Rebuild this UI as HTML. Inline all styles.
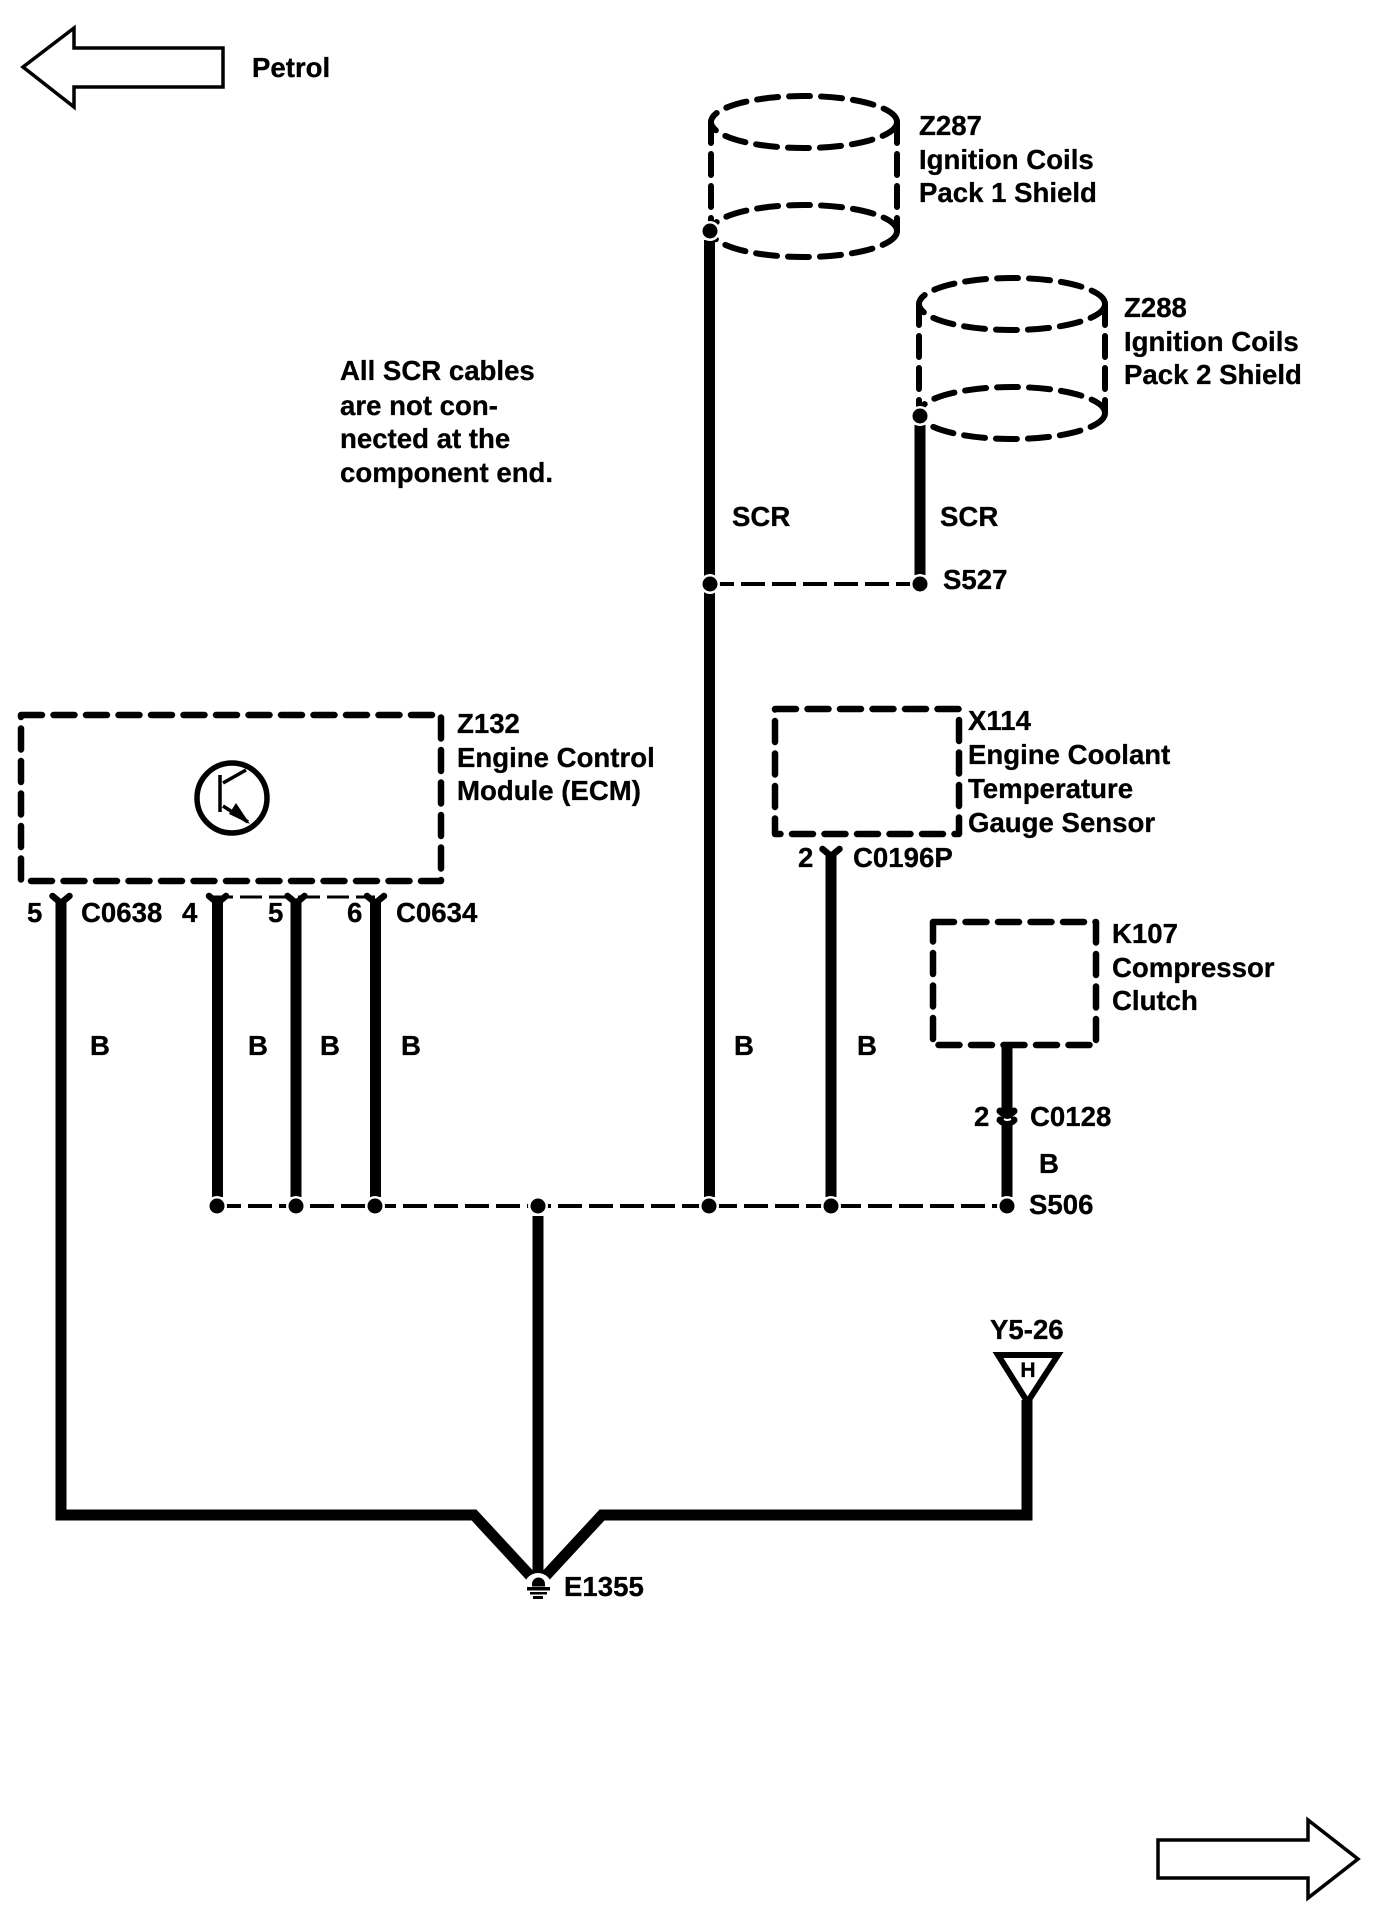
<!DOCTYPE html>
<html lang="en">
<head>
<meta charset="utf-8">
<title>Wiring diagram</title>
<style>
html,body{margin:0;padding:0;background:#fff;}
svg{display:block;}
text{font-family:"Liberation Sans",sans-serif;font-weight:bold;font-size:27.6px;fill:#000;stroke:#000;stroke-width:.3px;}
.w{fill:none;stroke:#000;stroke-width:11;}
.d{fill:none;stroke:#000;stroke-width:6.5;stroke-dasharray:21 11.5;stroke-linecap:round;stroke-linejoin:round;}
.c{fill:none;stroke:#000;stroke-width:6;stroke-dasharray:21 11;stroke-linecap:round;}
.h{fill:none;stroke:#000;stroke-width:4;stroke-dasharray:24 7;}
.y{fill:none;stroke:#000;stroke-width:6.5;stroke-linecap:round;}
.a{fill:#fff;stroke:#000;stroke-width:3.5;stroke-linejoin:miter;}
</style>
</head>
<body>
<svg xmlns="http://www.w3.org/2000/svg" width="1392" height="1914" viewBox="0 0 1392 1914">
<rect width="1392" height="1914" fill="#fff"/>

<!-- direction arrows -->
<polygon class="a" points="23,67 74,28 74,48 223,48 223,87 74,87 74,107"/>
<polygon class="a" points="1358,1859 1308,1820 1308,1840 1158,1840 1158,1878 1308,1878 1308,1898"/>
<text x="252" y="77">Petrol</text>

<!-- note -->
<text x="340" y="380">All SCR cables</text>
<text x="340" y="415">are not con-</text>
<text x="340" y="448">nected at the</text>
<text x="340" y="482">component end.</text>

<!-- cylinders -->
<ellipse class="c" cx="804" cy="122" rx="93" ry="26"/>
<ellipse class="c" cx="804" cy="231" rx="93" ry="26"/>
<path class="c" d="M711 122V231M897 122V231"/>
<ellipse class="c" cx="1012" cy="304" rx="93" ry="26"/>
<ellipse class="c" cx="1012" cy="413" rx="93" ry="26"/>
<path class="c" d="M919 304V413M1105 304V413"/>
<text x="919" y="135">Z287</text>
<text x="919" y="169">Ignition Coils</text>
<text x="919" y="202">Pack 1 Shield</text>
<text x="1124" y="317">Z288</text>
<text x="1124" y="351">Ignition Coils</text>
<text x="1124" y="384">Pack 2 Shield</text>

<!-- horizontal dashed buses -->
<line class="h" x1="710" y1="584" x2="920" y2="584"/>
<line class="h" x1="217" y1="1206" x2="1007" y2="1206"/>

<!-- wires -->
<path class="w" d="M709.500 240V1197"/>
<path class="w" d="M920 425V575"/>
<path class="w" d="M61 900V1515H474L536 1582"/>
<path class="w" d="M217.500 900V1197"/>
<path class="w" d="M296 900V1197"/>
<path class="w" d="M375.500 900V1197"/>
<path class="w" d="M831 852V1197"/>
<path class="w" d="M1007 1045V1197"/>
<path class="w" d="M538 1216V1580"/>
<path class="w" d="M540 1582L602 1515H1027V1400"/>

<!-- splice dots -->
<g fill="#fff">
<circle cx="710" cy="231" r="10"/><circle cx="920" cy="416" r="10"/>
<circle cx="710" cy="584" r="10"/><circle cx="920" cy="584" r="10"/>
<circle cx="217" cy="1206" r="10"/><circle cx="296" cy="1206" r="10"/><circle cx="375" cy="1206" r="10"/>
<circle cx="538" cy="1206" r="10"/><circle cx="709" cy="1206" r="10"/><circle cx="831" cy="1206" r="10"/><circle cx="1007" cy="1206" r="10"/>
</g>
<g fill="#000">
<circle cx="710" cy="231" r="7.500"/><circle cx="920" cy="416" r="7.500"/>
<circle cx="710" cy="584" r="7.500"/><circle cx="920" cy="584" r="7.500"/>
<circle cx="217" cy="1206" r="7.500"/><circle cx="296" cy="1206" r="7.500"/><circle cx="375" cy="1206" r="7.500"/>
<circle cx="538" cy="1206" r="7.500"/><circle cx="709" cy="1206" r="7.500"/><circle cx="831" cy="1206" r="7.500"/><circle cx="1007" cy="1206" r="7.500"/>
</g>

<!-- boxes -->
<rect class="d" x="21" y="715" width="420" height="166"/>
<rect class="d" x="775" y="709" width="184" height="125"/>
<rect class="d" x="933" y="922" width="163" height="123"/>

<!-- transistor -->
<circle cx="232" cy="798" r="35" fill="none" stroke="#000" stroke-width="5.500"/>
<path d="M220 775V812M223 783L246 770M223 806L248 822" fill="none" stroke="#000" stroke-width="3.500"/>
<polygon points="250,824 229,814 236,803" fill="#000"/>

<!-- connectors -->
<path class="y" d="M52.500 896L61 903L69.500 896"/>
<path d="M211 897H375" fill="none" stroke="#000" stroke-width="3" stroke-dasharray="22 7"/>
<path class="y" d="M209 896L217.500 903L226 896"/>
<path class="y" d="M287.500 896L296 903L304.500 896"/>
<path class="y" d="M367 896L375.500 903L384 896"/>
<path class="y" d="M822.500 849L831 856L839.500 849"/>
<path d="M1000 1111Q1007 1118 1014 1111M1000 1120Q1007 1127 1014 1120" fill="none" stroke="#000" stroke-width="7" stroke-linecap="round"/>
<path d="M1004 1119Q1007 1121 1011 1119" fill="none" stroke="#fff" stroke-width="2"/>

<!-- antenna triangle -->
<polygon points="998,1355 1058,1355 1027.500,1402" fill="#fff" stroke="#000" stroke-width="6"/>
<text x="1028" y="1377" text-anchor="middle" style="font-size:21px">H</text>
<text x="990" y="1339">Y5-26</text>

<!-- ground symbol -->
<circle cx="538" cy="1587" r="14" fill="#fff"/>
<path d="M532 1586.500V1584A6.500 6.500 0 0 1 545 1584V1586.500Z" fill="#000"/>
<rect x="527" y="1587" width="23" height="3.500" fill="#000"/>
<rect x="530" y="1592" width="17" height="2.500" fill="#000"/>
<rect x="533" y="1596" width="10" height="3" fill="#000"/>
<text x="564" y="1596">E1355</text>

<!-- labels -->
<text x="732" y="526">SCR</text>
<text x="940" y="526">SCR</text>
<text x="943" y="589">S527</text>

<text x="457" y="733">Z132</text>
<text x="457" y="767">Engine Control</text>
<text x="457" y="800">Module (ECM)</text>

<text x="968" y="730">X114</text>
<text x="968" y="764">Engine Coolant</text>
<text x="968" y="798">Temperature</text>
<text x="968" y="832">Gauge Sensor</text>

<text x="1112" y="943">K107</text>
<text x="1112" y="977">Compressor</text>
<text x="1112" y="1010">Clutch</text>

<text x="27" y="922">5</text>
<text x="81" y="922">C0638</text>
<text x="182" y="922">4</text>
<text x="268" y="922">5</text>
<text x="347" y="922">6</text>
<text x="396" y="922">C0634</text>
<text x="798" y="867">2</text>
<text x="853" y="867">C0196P</text>
<text x="974" y="1126">2</text>
<text x="1030" y="1126">C0128</text>

<text x="90" y="1055">B</text>
<text x="248" y="1055">B</text>
<text x="320" y="1055">B</text>
<text x="401" y="1055">B</text>
<text x="734" y="1055">B</text>
<text x="857" y="1055">B</text>
<text x="1039" y="1173">B</text>
<text x="1029" y="1214">S506</text>
</svg>
</body>
</html>
